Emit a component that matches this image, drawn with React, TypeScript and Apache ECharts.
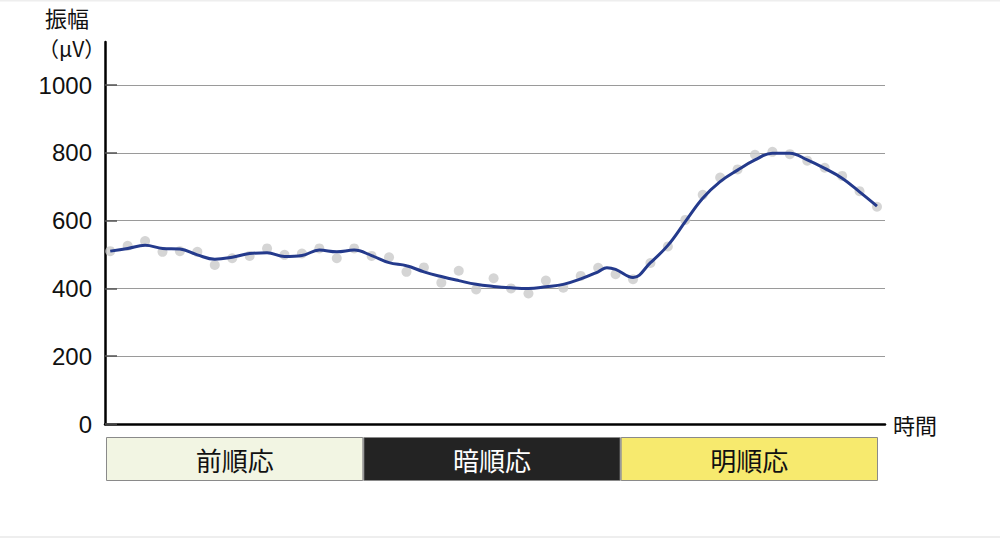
import React, { useEffect, useRef } from "react";
import * as echarts from "echarts";

// Scatter measurements (amplitude, µV) at equally spaced time steps
const pointValues = [
  510, 526, 540, 508, 510, 508, 469, 489, 496, 518,
  499, 503, 518, 489, 518, 496, 492, 449, 462, 417,
  452, 397, 430, 400, 385, 423, 402, 437, 461, 442,
  427, 475, 524, 602, 676, 727, 751, 794, 803, 796,
  777, 756, 732, 687, 641,
];

// Smoothed fit curve (time step, amplitude)
const fitTimes = [
  0, 1, 2, 3, 4, 5, 6, 7, 8, 9,
  10, 11, 12, 13, 14, 15, 16, 17, 18, 19,
  20, 21, 22, 23, 24, 25, 26, 27, 28, 28.5, 29,
  30, 31, 32, 33, 34, 35, 36, 37, 38, 39,
  40, 41, 42, 43, 44,
];
const fitValues = [
  510, 518, 527, 518, 516, 499, 486, 492, 503, 505,
  494, 497, 513, 508, 513, 497, 476, 467, 449, 435,
  423, 412, 406, 402, 400, 405, 412, 428, 449, 461, 456,
  432, 476, 527, 597, 666, 715, 749, 779, 799, 799,
  779, 754, 725, 685, 643,
];

const yTickLabels = [0, 200, 400, 600, 800, 1000];

const phases = ["前順応", "暗順応", "明順応"];
const phaseLengths = [1, 1, 1];
const phaseColors = ["#f2f5e3", "#232323", "#f7ea6e"];
const phaseTextColors = ["#111111", "#ffffff", "#111111"];

const numFont = "Liberation Sans, Arial, sans-serif";
const jpFont = "Noto Sans CJK JP, sans-serif";

export default function App() {
  const ref = useRef<HTMLDivElement>(null);

  useEffect(() => {
    document.body.style.margin = "0";
    if (!ref.current) return;
    const chart = echarts.init(ref.current, null, { renderer: "svg" });

    const bandSeries = phases.map((name, i) => ({
      type: "bar",
      name,
      xAxisIndex: 1,
      yAxisIndex: 1,
      stack: "phase",
      barWidth: "100%",
      data: [phaseLengths[i]],
      itemStyle: {
        color: phaseColors[i],
        borderColor: "#8a8a8a",
        borderWidth: 1,
      },
      label: {
        show: true,
        position: "inside",
        formatter: name,
        color: phaseTextColors[i],
        fontSize: 26,
        fontFamily: jpFont,
      },
      silent: true,
    }));

    chart.setOption({
      animation: false,
      backgroundColor: "#ffffff",
      grid: [
        { left: 105, right: 115, top: 42, bottom: 114 },
        { left: 106, right: 122, top: 437, height: 44 },
      ],
      xAxis: [
        {
          type: "value",
          gridIndex: 0,
          min: -0.3,
          max: 44.46,
          axisLine: { show: true, onZero: false, lineStyle: { color: "#000", width: 2.5 } },
          axisTick: { show: false },
          axisLabel: { show: false },
          splitLine: { show: false },
          name: "時間",
          nameLocation: "end",
          nameGap: 8,
          nameTextStyle: { fontSize: 22, color: "#111", fontFamily: jpFont, verticalAlign: "middle" },
        },
        {
          type: "value",
          gridIndex: 1,
          min: 0,
          max: 3,
          show: false,
        },
      ],
      yAxis: [
        {
          type: "value",
          gridIndex: 0,
          min: 0,
          max: 1127,
          interval: 200,
          axisLine: { show: true, onZero: false, lineStyle: { color: "#000", width: 2.5 } },
          axisTick: {
            show: true,
            inside: true,
            length: 12,
            lineStyle: { color: "#555", width: 1.5 },
            customValues: yTickLabels,
          },
          axisLabel: {
            customValues: yTickLabels,
            formatter: (v: number) => String(v),
            fontSize: 24,
            color: "#111",
            margin: 13,
            fontFamily: numFont,
          },
          splitLine: {
            show: true,
            lineStyle: { color: "#9a9a9a", width: 1 },
          },
        },
        {
          type: "category",
          gridIndex: 1,
          data: ["phase"],
          show: false,
        },
      ],
      graphic: [
        {
          type: "text",
          left: 45,
          top: 6,
          style: { text: "振幅", fontSize: 22, fill: "#111", fontFamily: jpFont },
        },
        {
          type: "text",
          left: 38,
          top: 37,
          style: { text: "（μV）", fontSize: 21, fill: "#111", fontFamily: jpFont },
        },
        {
          type: "line",
          shape: { x1: 0, y1: 0.5, x2: 1000, y2: 0.5 },
          style: { stroke: "#eeeeee", lineWidth: 2 },
        },
        {
          type: "line",
          shape: { x1: 0, y1: 537, x2: 1000, y2: 537 },
          style: { stroke: "#eeeeee", lineWidth: 2 },
        },
      ],
      series: [
        {
          type: "scatter",
          name: "measured",
          xAxisIndex: 0,
          yAxisIndex: 0,
          symbolSize: 10,
          itemStyle: { color: "#cacaca" },
          data: pointValues.map((v, i) => [i, v]),
          z: 2,
        },
        {
          type: "line",
          name: "fit",
          xAxisIndex: 0,
          yAxisIndex: 0,
          smooth: 0.4,
          showSymbol: false,
          symbol: "none",
          lineStyle: { color: "#243a8c", width: 3 },
          data: fitTimes.map((t, i) => [t, fitValues[i]]),
          z: 3,
        },
        ...bandSeries,
      ],
    });

    return () => chart.dispose();
  }, []);

  return <div ref={ref} style={{ width: 1000, height: 538 }} />;
}
